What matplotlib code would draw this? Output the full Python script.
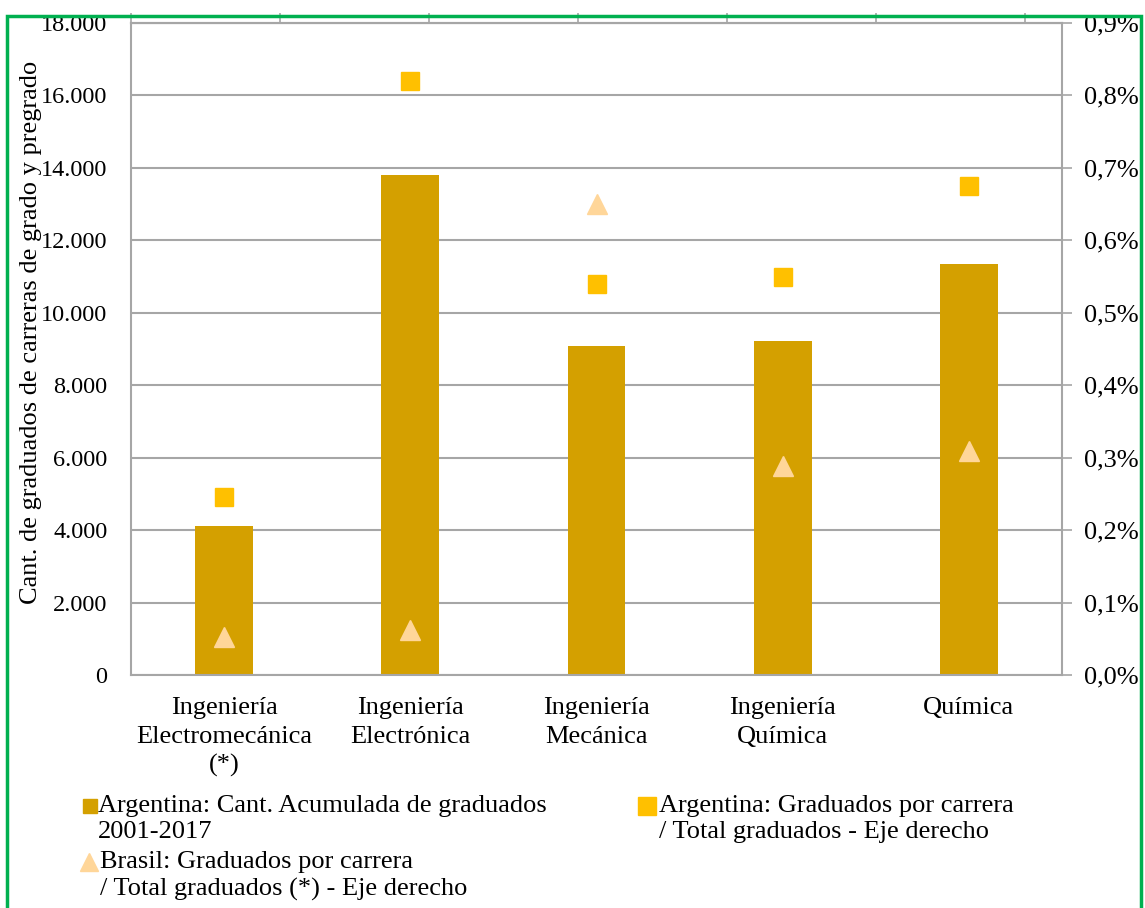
import numpy as np
import matplotlib
matplotlib.use("Agg")
import matplotlib.pyplot as plt
from matplotlib.lines import Line2D
from matplotlib.patches import Rectangle
from matplotlib.ticker import FuncFormatter

carreras = ["Ingeniería\nElectromecánica\n(*)", "Ingeniería\nElectrónica",
            "Ingeniería\nMecánica", "Ingeniería\nQuímica", "Química"]
arg_acumulados = [4100, 13800, 9080, 9220, 11350]
arg_share = [0.246, 0.820, 0.540, 0.550, 0.675]    # % del total de graduados
bra_share = [0.052, 0.062, 0.650, 0.289, 0.309]    # % del total de graduados

plt.rcParams['font.family'] = ['Liberation Serif', 'DejaVu Serif']
fs = 19
grid_c = "#a6a6a6"
c_bar, c_sq, c_tri = "#d4a000", "#ffc000", "#ffd699"

W, H = 1145, 908
fig = plt.figure(figsize=(W / 100, H / 100), dpi=100)
ax = fig.add_axes([131/W, 1 - 675/H, (1062-131)/W, (675-23)/H])
x = np.arange(len(carreras))

ax.bar(x, arg_acumulados, width=0.31, color=c_bar, zorder=2)
ax.set_xlim(-0.5, len(carreras) - 0.5)
ax.set_ylim(0, 18000)
ax.set_yticks(np.arange(0, 18001, 2000))
ax.yaxis.set_major_formatter(FuncFormatter(lambda v, p: f"{int(v):,}".replace(",", ".")))
ax.grid(axis="y", color=grid_c, linewidth=1.5, zorder=0)
ax.set_axisbelow(True)
ax.set_xticks(x)
ax.set_xticklabels(carreras, fontsize=fs, linespacing=1.38)
ax.tick_params(axis="x", length=0, pad=16)
ax.tick_params(axis="y", length=0, labelsize=17.5, pad=17)
ax.set_ylabel("Cant. de graduados de carreras de grado y pregrado", fontsize=fs)
ax.yaxis.set_label_coords(-0.096, 0.525)
for s in ["left", "bottom", "top"]:
    ax.spines[s].set_color(grid_c)
    ax.spines[s].set_linewidth(1.5)
ax.spines["right"].set_visible(False)

# eje superior con marcas
top = ax.secondary_xaxis("top")
top.set_xticks(np.arange(-0.5, 4.5, 0.8))
top.set_xticklabels([])
top.tick_params(length=7, color=grid_c, width=1.2)
top.spines["top"].set_color(grid_c)
top.spines["top"].set_linewidth(1.5)

ax2 = ax.twinx()
ax2.set_ylim(0, 0.9)
ax2.set_yticks(np.arange(0, 0.91, 0.1))
ax2.yaxis.set_major_formatter(FuncFormatter(lambda v, p: f"{v:.1f}%".replace(".", ",")))
ax2.tick_params(axis="y", length=7, color=grid_c, width=1.2, labelsize=fs, pad=9)
for s in ["left", "bottom", "top"]:
    ax2.spines[s].set_visible(False)
ax2.spines["right"].set_color(grid_c)
ax2.spines["right"].set_linewidth(1.5)
ax2.plot(x, arg_share, linestyle="none", marker="s", markersize=13, color=c_sq, zorder=3)
ax2.plot(x, bra_share, linestyle="none", marker="^", markersize=14, color=c_tri, zorder=3)

# leyenda
leg = [
    (90, 806, "s", 10, c_bar, 98, "Argentina: Cant. Acumulada de graduados\n2001-2017"),
    (647, 806, "s", 12.5, c_sq, 659, "Argentina: Graduados por carrera\n/ Total graduados - Eje derecho"),
    (89, 862, "^", 13, c_tri, 100, "Brasil: Graduados por carrera\n/ Total graduados (*) - Eje derecho"),
]
for mx, my, mk, ms, col, tx, txt in leg:
    fig.add_artist(Line2D([mx / W], [1 - my / H], transform=fig.transFigure, linestyle="none",
                          marker=mk, markersize=ms, color=col))
    fig.text(tx / W, 1 - (my - 11) / H, txt, fontsize=fs, va="top", ha="left", linespacing=1.25)

# marco verde
fig.patches.append(Rectangle((7/W, -0.01), (1141-7)/W, 1 - 16/H + 0.01,
                             transform=fig.transFigure, fill=False, edgecolor="#00b050",
                             linewidth=2.5))

fig.savefig("out.png", dpi=100)
